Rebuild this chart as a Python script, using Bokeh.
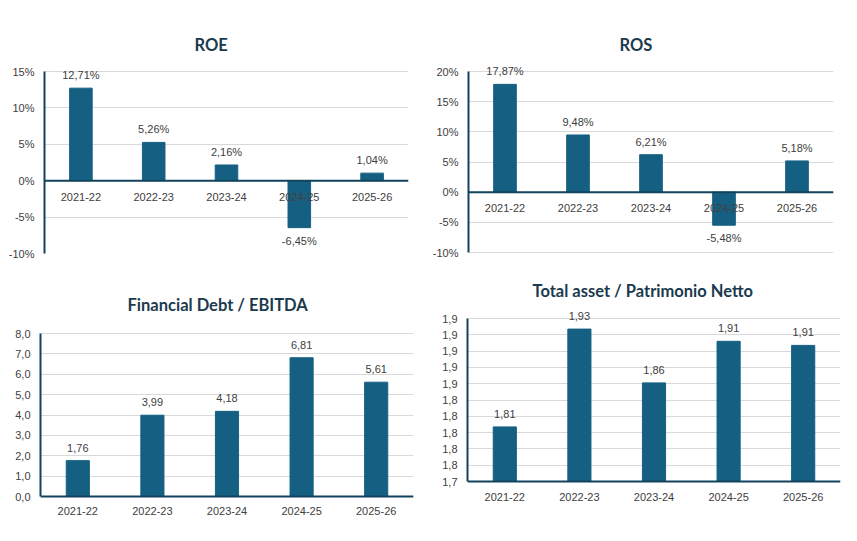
from bokeh.plotting import figure
from bokeh.layouts import column, row
from bokeh.models import ColumnDataSource, Range1d, FactorRange, FixedTicker, Span, LabelSet
from bokeh.core.properties import value
from bokeh.embed import file_html
from bokeh.resources import INLINE

# data
years = ["2021-22", "2022-23", "2023-24", "2024-25", "2025-26"]

roe = [12.71, 5.26, 2.16, -6.45, 1.04]
ros = [17.87, 9.48, 6.21, -5.48, 5.18]
debt_ebitda = [1.76, 3.99, 4.18, 6.81, 5.61]
asset_equity = [1.807, 1.927, 1.861, 1.912, 1.907]

roe_ticks = [-10, -5, 0, 5, 10, 15]
roe_tick_labels = ["-10%", "-5%", "0%", "5%", "10%", "15%"]
ros_ticks = [-10, -5, 0, 5, 10, 15, 20]
ros_tick_labels = ["-10%", "-5%", "0%", "5%", "10%", "15%", "20%"]
debt_ticks = [0, 1, 2, 3, 4, 5, 6, 7, 8]
debt_tick_labels = ["0,0", "1,0", "2,0", "3,0", "4,0", "5,0", "6,0", "7,0", "8,0"]
asset_ticks = [1.74, 1.76, 1.78, 1.8, 1.82, 1.84, 1.86, 1.88, 1.9, 1.92, 1.94]
asset_tick_labels = ["1,7", "1,8", "1,8", "1,8", "1,8", "1,8", "1,9", "1,9", "1,9", "1,9", "1,9"]

BAR = "#156082"
AXIS = "#12435C"
TITLE = "#1B3A4E"
TEXT = "#404040"
GRID = "#D9D9D9"
FONT = "Liberation Sans"


def panel(title, vals, ticks, tick_labels, suffix, size, borders, axis_px, title_pos, cat_offset):
    """axis_px: pixel rows (from the frame top) of the first and last tick."""
    w, h = size
    left, right, top, bottom = borders
    fh = h - top - bottom
    lo_px, hi_px = axis_px
    # stretch the y range so the frame also holds the value and category labels
    per_px = (ticks[-1] - ticks[0]) / (lo_px - hi_px)
    y_range = Range1d(ticks[0] - (fh - lo_px) * per_px, ticks[-1] + hi_px * per_px)

    p = figure(x_range=FactorRange(factors=years), y_range=y_range,
               width=w, height=h,
               min_border_left=left, min_border_right=right,
               min_border_top=top, min_border_bottom=bottom,
               toolbar_location=None, tools="", output_backend="svg", title=title)
    p.outline_line_color = None
    p.title.align = "left"
    p.title.offset = title_pos[0]
    p.title.standoff = title_pos[1]
    p.title.text_font = "Lato"
    p.title.text_font_style = "bold"
    p.title.text_font_size = "16.5px"
    p.title.text_color = TITLE

    # value labels sit above positive bars and below negative ones
    labels = [f"{v:.2f}".replace(".", ",") + suffix for v in vals]
    offsets = [13 if v >= 0 else -13 for v in vals]
    base = 0 if ticks[0] <= 0 else ticks[0]
    src = ColumnDataSource(dict(year=years, val=vals, label=labels, off=offsets,
                                base=[base] * len(years)))

    p.vbar(x="year", top="val", bottom="base", width=0.31, color=BAR, source=src)
    p.add_layout(LabelSet(x="year", y="val", text="label", y_offset="off", source=src,
                          text_align="center", text_baseline="middle", text_font=value(FONT),
                          text_font_size="11px", text_color=TEXT))

    p.xgrid.grid_line_color = None
    p.ygrid.grid_line_color = GRID
    p.ygrid.ticker = FixedTicker(ticks=ticks)

    p.yaxis.ticker = FixedTicker(ticks=ticks)
    p.yaxis.bounds = (ticks[0], ticks[-1])
    p.yaxis.major_label_overrides = dict(zip(ticks, tick_labels))
    p.yaxis.axis_line_color = AXIS
    p.yaxis.axis_line_width = 2
    p.yaxis.major_tick_line_color = None
    p.yaxis.minor_tick_line_color = None
    p.yaxis.major_tick_out = 0
    p.yaxis.major_tick_in = 0
    p.yaxis.major_label_standoff = 10
    p.yaxis.major_label_text_font = FONT
    p.yaxis.major_label_text_font_size = "11px"
    p.yaxis.major_label_text_color = TEXT

    # category axis: a dark base line with the year labels hanging under it
    p.xaxis.visible = False
    p.add_layout(Span(location=base, dimension="width", line_color=AXIS, line_width=2))
    p.add_layout(LabelSet(x="year", y="base", text="year", y_offset=cat_offset, source=src,
                          text_align="center", text_baseline="middle", text_font=value(FONT),
                          text_font_size="11px", text_color=TEXT))
    return p


p1 = panel("ROE", roe, roe_ticks, roe_tick_labels, "%",
           (429, 268), (44, 21, 61, 15), (192, 10), (150, 14), -16)
p2 = panel("ROS", ros, ros_ticks, ros_tick_labels, "%",
           (420, 268), (39, 16, 61, 15), (191, 10), (151, 14), -16)
p3 = panel("Financial Debt / EBITDA", debt_ebitda, debt_ticks, debt_tick_labels, "",
           (429, 261), (40, 16, 41, 10), (187, 24), (87, -11), -14)
p4 = panel("Total asset /  Patrimonio Netto", asset_equity, asset_ticks, asset_tick_labels, "",
           (420, 261), (38, 9, 41, 10), (172, 9), (65, 16.5), -15)

p = column(row(p1, p2), row(p3, p4))

open("out.html", "w").write(file_html(p, INLINE))
